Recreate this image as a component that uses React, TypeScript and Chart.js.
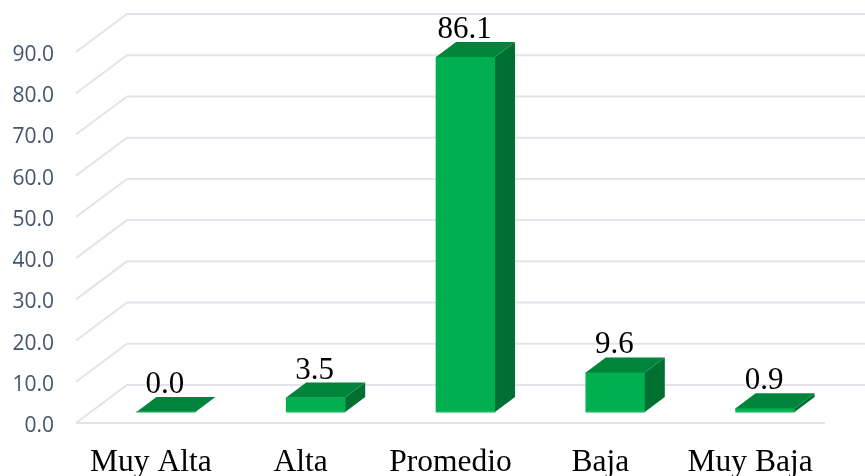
import React, { useEffect, useRef } from "react";
import { Chart, registerables } from "chart.js";

Chart.register(...registerables);

const categories = ["Muy Alta", "Alta", "Promedio", "Baja", "Muy Baja"];
const percentages = [0.0, 3.5, 86.1, 9.6, 0.9];
const axisMax = 90;
const axisStep = 10;

const gridColor = "#E1E4EB";
const tickColor = "#44546A";
const frontColor = "#00B050";
const topColor = "#00843C";
const sideColor = "#007032";
const baseEdgeColor = "#3CBF78";
const serif = "'Liberation Serif', serif";

// Oblique offsets of the 3D box: wall depth and bar depth, in pixels
const wall = { dx: 51, dy: -38 };
const depth = { dx: 20, dy: -15 };
const axisShiftX = 15;
// Tick text sits slightly below its gridline
const gridShiftY = -3;

const poly = (ctx: CanvasRenderingContext2D, pts: number[][], fill: string) => {
  ctx.beginPath();
  pts.forEach(([x, y], i) => (i ? ctx.lineTo(x, y) : ctx.moveTo(x, y)));
  ctx.closePath();
  ctx.fillStyle = fill;
  ctx.fill();
};

const wallGrid = {
  id: "wallGrid",
  beforeDatasetsDraw(chart: any) {
    const { ctx, scales } = chart;
    const left = scales.x.left - axisShiftX;
    const right = scales.x.right - axisShiftX;
    ctx.save();
    ctx.strokeStyle = gridColor;
    ctx.lineWidth = 2;
    for (let v = 0; v <= axisMax; v += axisStep) {
      const y = scales.y.getPixelForValue(v) + gridShiftY;
      ctx.beginPath();
      ctx.moveTo(left, y);
      ctx.lineTo(left + wall.dx, y + wall.dy);
      ctx.lineTo(right + wall.dx, y + wall.dy);
      ctx.stroke();
    }
    const y0 = scales.y.getPixelForValue(0) + gridShiftY;
    ctx.beginPath();
    ctx.moveTo(left, y0);
    ctx.lineTo(right, y0);
    ctx.stroke();
    ctx.restore();
  },
};

const barFaces = {
  id: "barFaces",
  afterDatasetsDraw(chart: any) {
    const { ctx } = chart;
    const meta = chart.getDatasetMeta(0);
    ctx.save();
    meta.data.forEach((bar: any, i: number) => {
      const l = bar.x - bar.width / 2;
      const r = bar.x + bar.width / 2;
      const t = bar.y;
      const b = bar.base;
      const { dx, dy } = depth;
      poly(ctx, [[r, t], [r + dx, t + dy], [r + dx, b + dy], [r, b]], sideColor);
      poly(ctx, [[l, t], [l + dx, t + dy], [r + dx, t + dy], [r, t]], topColor);
      ctx.fillStyle = baseEdgeColor;
      ctx.fillRect(l, b - 0.5, r - l, 1);
      ctx.fillStyle = "#000000";
      ctx.font = `31px ${serif}`;
      ctx.textAlign = "center";
      ctx.textBaseline = "alphabetic";
      ctx.fillText(percentages[i].toFixed(1), bar.x - 1, t + dy - 4);
    });
    ctx.restore();
  },
};

export default function App() {
  const ref = useRef<HTMLCanvasElement>(null);

  useEffect(() => {
    document.body.style.margin = "0";
    const chart = new Chart(ref.current as HTMLCanvasElement, {
      type: "bar",
      data: {
        labels: categories,
        datasets: [
          {
            data: percentages,
            yAxisID: "yBars",
            backgroundColor: frontColor,
            barThickness: 59,
          },
        ],
      },
      plugins: [wallGrid, barFaces],
      options: {
        animation: false,
        responsive: false,
        layout: { padding: { top: 55, right: 25, left: 0, bottom: 0 } },
        plugins: { legend: { display: false }, tooltip: { enabled: false } },
        scales: {
          x: {
            grid: { display: false },
            border: { display: false },
            afterFit: (s: any) => {
              s.height = 50;
            },
            ticks: {
              color: "#000000",
              font: { family: serif, size: 31.5 },
              labelOffset: -axisShiftX,
              padding: 10,
              maxRotation: 0,
              autoSkip: false,
            },
          },
          y: {
            min: 0,
            max: axisMax,
            grid: { display: false },
            border: { display: false },
            afterFit: (s: any) => {
              s.width = 91;
            },
            ticks: {
              stepSize: axisStep,
              color: tickColor,
              font: { family: "'Open Sans'", size: 21 },
              padding: 29,
              callback: (v: any) => Number(v).toFixed(1),
            },
          },
          // Bars stand mid-floor, slightly above the front edge of the wall axis
          yBars: {
            display: false,
            min: -3.4,
            max: axisMax - 3.4,
          },
        },
      },
    } as any);
    return () => chart.destroy();
  }, []);

  return <canvas ref={ref} width={865} height={476} style={{ display: "block" }} />;
}
